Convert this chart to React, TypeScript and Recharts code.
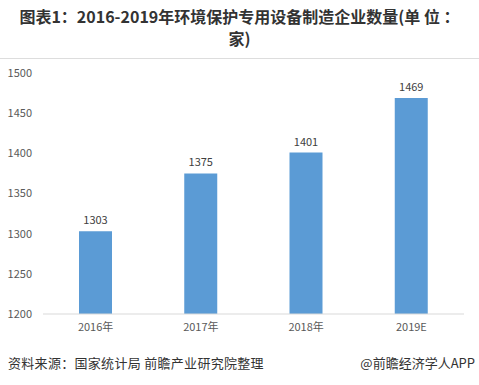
import { BarChart, Bar, XAxis, YAxis, LabelList } from 'recharts';

const years = ['2016年', '2017年', '2018年', '2019E'];
const companies = [1303, 1375, 1401, 1469];
const yTicks = [1200, 1250, 1300, 1350, 1400, 1450, 1500];

const data = years.map((year, i) => ({ year, count: companies[i] }));

const font = '"Noto Sans CJK SC", "Noto Sans", sans-serif';

export default function App() {
  return (
    <div
      style={{
        position: 'absolute',
        left: 0,
        top: 0,
        width: 479,
        height: 385,
        background: '#fff',
        fontFamily: font,
        overflow: 'hidden',
      }}
    >
      <div
        style={{
          position: 'absolute',
          top: 5,
          left: 0,
          width: 479,
          textAlign: 'center',
          fontSize: 16,
          fontWeight: 'bold',
          lineHeight: '22px',
          color: '#333',
        }}
      >
        <div>图表1：2016-2019年环境保护专用设备制造企业数量(单 位 ：</div>
        <div>家)</div>
      </div>
      <div style={{ position: 'absolute', top: 58, left: 0, width: 479, height: 1, background: '#ddd' }} />
      <div style={{ position: 'absolute', top: 0, left: 0 }}>
        <BarChart
          width={479}
          height={385}
          data={data}
          margin={{ top: 73, right: 15, bottom: 41, left: 0 }}
        >
          <XAxis
            dataKey="year"
            height={30}
            tickLine={false}
            axisLine={{ stroke: '#d9d9d9' }}
            tickMargin={3}
            tick={{ fontSize: 11, fill: '#595959', fontFamily: font }}
          />
          <YAxis
            width={43}
            domain={[1200, 1500]}
            ticks={yTicks}
            axisLine={false}
            tickLine={false}
            tickMargin={5}
            tick={{ fontSize: 11, fill: '#595959', fontFamily: font }}
          />
          <Bar dataKey="count" fill="#5B9BD5" barSize={33} isAnimationActive={false}>
            <LabelList
              dataKey="count"
              position="top"
              offset={7}
              style={{ fontSize: 11, fill: '#404040', fontFamily: font }}
            />
          </Bar>
        </BarChart>
      </div>
      <div
        style={{
          position: 'absolute',
          top: 353,
          left: 8,
          fontSize: 13,
          color: '#333',
          letterSpacing: 0.3,
          whiteSpace: 'nowrap',
        }}
      >
        资料来源：国家统计局 前瞻产业研究院整理
      </div>
      <div
        style={{
          position: 'absolute',
          top: 353,
          right: 4,
          fontSize: 13,
          color: '#333',
          whiteSpace: 'nowrap',
        }}
      >
        @前瞻经济学人APP
      </div>
    </div>
  );
}
